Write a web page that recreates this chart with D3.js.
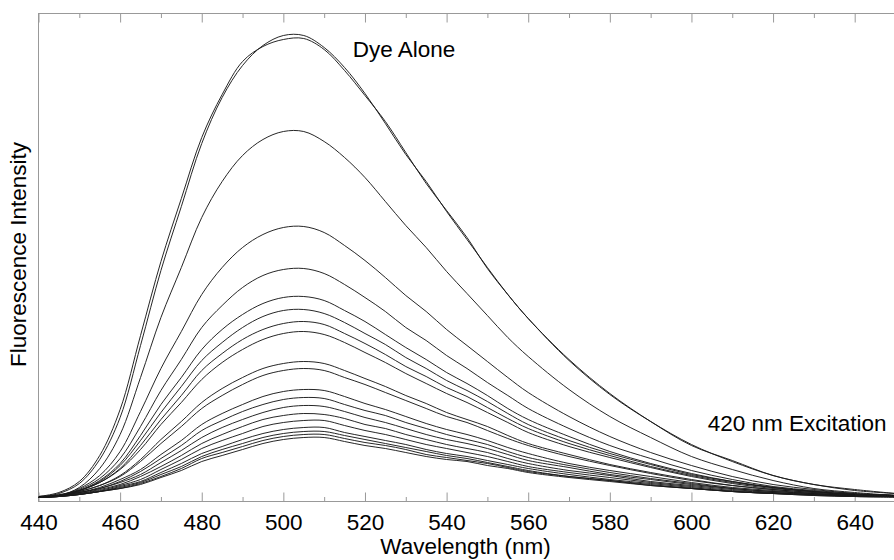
<!DOCTYPE html>
<html>
<head>
<meta charset="utf-8">
<script src="https://cdn.jsdelivr.net/npm/d3@7"></script>
<style>
  body { margin: 0; background: #fff; }
  svg { display: block; font-family: "Liberation Sans", Arial, Helvetica, sans-serif; }
  .frame { fill: none; stroke: #999; stroke-width: 1; }
  .axis line { stroke: #999; stroke-width: 1; }
  .axis text { fill: #000; font-size: 22.5px; font-family: "Liberation Sans", Arial, Helvetica, sans-serif; }
  .spectrum { fill: none; stroke: #1a1a1a; stroke-width: 0.95; }
  .label { fill: #000; font-size: 22.5px; }
</style>
</head>
<body>
<div id="chart"></div>
<script>
// wavelength grid (nm) the spectra were read at
const wavelengths = [440, 445, 450, 455, 460, 465, 470, 475, 480, 485, 490, 495, 500, 505, 510, 515, 520,
  525, 530, 535, 540, 545, 550, 555, 560, 570, 580, 590, 600, 610, 620, 630, 640, 650];

const majorTicks = [440, 460, 480, 500, 520, 540, 560, 580, 600, 620, 640];
const minorTicks = [450, 470, 490, 510, 530, 550, 570, 590, 610, 630, 650];

// fluorescence intensity (arb. units), dye alone runs
const dyeAlone1 = [4, 8, 18, 42, 84, 156, 231, 295, 358, 404, 436, 456, 466, 466, 454, 434, 408,
  378, 347, 320, 290, 262, 234, 207, 183, 141, 107, 80, 57, 40, 26, 17, 11, 8];
const dyeAlone2 = [5, 9, 20, 46, 92, 166, 240, 303, 364, 407, 440, 455, 462, 463, 452, 431, 406,
  380, 349, 318, 291, 264, 233, 207, 183, 142, 108, 80, 56, 41, 26, 17, 12, 8];

// quenched spectra, top to bottom
const quench01 = [4, 6, 14, 33, 67, 124, 184, 234, 284, 320, 346, 362, 370, 370, 360, 344, 324,
  300, 276, 254, 230, 208, 186, 164, 145, 112, 85, 64, 45, 32, 21, 13, 9, 6];
const quench02 = [4, 6, 13, 26, 50, 90, 133, 170, 207, 234, 254, 267, 274, 275, 269, 256, 241,
  224, 206, 190, 172, 156, 140, 124, 109, 85, 65, 49, 36, 25, 17, 12, 8, 6];
const quench03 = [4, 6, 12, 23, 43, 75, 111, 142, 174, 196, 214, 226, 232, 233, 228, 217, 204,
  190, 174, 161, 146, 133, 119, 106, 93, 73, 56, 43, 31, 22, 15, 11, 8, 6];
const quench04 = [4, 6, 11, 21, 38, 66, 97, 124, 152, 172, 187, 198, 204, 205, 201, 191, 180,
  167, 154, 142, 129, 118, 106, 93, 82, 65, 50, 38, 28, 20, 14, 10, 7, 6];
const quench05 = [4, 6, 11, 20, 36, 61, 89, 115, 141, 159, 174, 185, 191, 192, 188, 179, 168,
  157, 144, 133, 121, 111, 100, 88, 77, 61, 48, 37, 27, 20, 14, 10, 7, 6];
const quench06 = [4, 6, 11, 19, 33, 56, 82, 106, 131, 148, 162, 172, 178, 180, 177, 168, 158,
  147, 135, 125, 114, 105, 94, 83, 73, 58, 46, 35, 26, 19, 14, 10, 7, 6];
const quench07 = [5, 7, 11, 19, 32, 52, 77, 99, 122, 139, 152, 162, 168, 170, 167, 159, 149,
  139, 128, 118, 108, 99, 89, 79, 69, 55, 44, 34, 25, 18, 13, 10, 7, 6];
const quench08 = [4, 6, 10, 16, 26, 42, 62, 80, 99, 113, 124, 133, 138, 140, 138, 131, 123,
  115, 106, 98, 89, 82, 75, 66, 58, 47, 37, 29, 22, 16, 12, 9, 7, 6];
const quench09 = [5, 6, 10, 16, 25, 40, 58, 75, 93, 106, 117, 126, 131, 133, 131, 124, 117,
  109, 101, 93, 85, 79, 71, 63, 56, 45, 36, 28, 21, 16, 12, 9, 7, 6];
const quench10 = [4, 6, 9, 14, 22, 32, 47, 61, 77, 88, 97, 105, 110, 112, 111, 105, 98,
  92, 85, 78, 72, 67, 61, 54, 48, 38, 31, 25, 19, 14, 11, 8, 6, 5];
const quench11 = [4, 6, 9, 13, 20, 30, 43, 56, 71, 81, 90, 97, 102, 104, 103, 97, 91,
  86, 79, 73, 67, 62, 57, 50, 44, 36, 29, 23, 18, 13, 10, 8, 6, 5];
const quench12 = [4, 6, 9, 13, 19, 27, 39, 51, 64, 74, 82, 89, 94, 96, 95, 90, 84,
  79, 73, 67, 62, 58, 53, 47, 41, 34, 27, 22, 17, 13, 10, 8, 6, 5];
const quench13 = [4, 6, 8, 12, 17, 25, 35, 46, 58, 67, 75, 82, 86, 88, 87, 83, 77,
  73, 67, 62, 57, 53, 49, 43, 38, 31, 26, 20, 16, 12, 9, 7, 6, 5];
const quench14 = [4, 5, 8, 11, 16, 22, 32, 42, 53, 61, 68, 75, 79, 81, 81, 76, 71,
  67, 62, 57, 53, 49, 45, 40, 35, 29, 24, 19, 15, 11, 9, 7, 6, 5];
const quench15 = [4, 5, 7, 10, 15, 20, 29, 38, 48, 55, 62, 68, 72, 74, 74, 69, 65,
  61, 57, 52, 48, 45, 41, 37, 33, 27, 22, 18, 14, 10, 8, 7, 5, 5];
const quench16 = [4, 5, 7, 10, 14, 19, 27, 35, 45, 52, 58, 64, 68, 70, 70, 66, 62,
  58, 54, 50, 46, 43, 39, 35, 31, 25, 21, 17, 13, 10, 8, 7, 5, 5];
const quench17 = [4, 5, 7, 10, 13, 18, 25, 33, 43, 49, 55, 61, 65, 67, 67, 63, 59,
  56, 52, 47, 44, 41, 38, 34, 30, 25, 21, 16, 13, 10, 8, 6, 5, 5];
const quench18 = [4, 5, 7, 10, 13, 17, 24, 31, 40, 46, 52, 58, 62, 64, 64, 60, 56,
  53, 49, 45, 42, 40, 36, 33, 29, 24, 20, 16, 13, 10, 8, 6, 5, 4];

const spectra = [dyeAlone1, dyeAlone2, quench01, quench02, quench03, quench04, quench05, quench06,
  quench07, quench08, quench09, quench10, quench11, quench12, quench13, quench14, quench15,
  quench16, quench17, quench18];

class SpectraChart {

  constructor(_config, _data) {
    this.config = {
      parentElement: _config.parentElement,
      containerWidth: _config.containerWidth || 894,
      containerHeight: _config.containerHeight || 560,
      margin: _config.margin || {top: 13.5, right: -1.5, bottom: 58.5, left: 38.5}
    };
    this.data = _data;
    this.initVis();
  }

  initVis() {
    let vis = this;

    vis.width = vis.config.containerWidth - vis.config.margin.left - vis.config.margin.right;
    vis.height = vis.config.containerHeight - vis.config.margin.top - vis.config.margin.bottom;

    vis.xScale = d3.scaleLinear()
        .domain([440, 650])
        .range([0, vis.width]);

    // intensity is arbitrary, no y ticks on the original
    vis.yScale = d3.scaleLinear()
        .domain([0, 488])
        .range([vis.height, 0]);

    vis.svg = d3.select(vis.config.parentElement).append('svg')
        .attr('width', vis.config.containerWidth)
        .attr('height', vis.config.containerHeight);

    vis.chart = vis.svg.append('g')
        .attr('transform', `translate(${vis.config.margin.left},${vis.config.margin.top})`);

    vis.chart.append('clipPath')
        .attr('id', 'plot-clip')
      .append('rect')
        .attr('width', vis.width)
        .attr('height', vis.height);

    // ticks point inward, major every 20 nm, minor in between
    vis.xAxisMajor = d3.axisBottom(vis.xScale)
        .tickValues(majorTicks)
        .tickSize(-9)
        .tickPadding(13)
        .tickFormat(d3.format('d'));
    vis.xAxisMinor = d3.axisBottom(vis.xScale)
        .tickValues(minorTicks)
        .tickSize(-4.5)
        .tickFormat('');
    vis.topAxisMajor = d3.axisTop(vis.xScale)
        .tickValues(majorTicks)
        .tickSize(-9)
        .tickFormat('');
    vis.topAxisMinor = d3.axisTop(vis.xScale)
        .tickValues(minorTicks)
        .tickSize(-4.5)
        .tickFormat('');

    vis.chart.append('rect')
        .attr('class', 'frame')
        .attr('width', vis.width)
        .attr('height', vis.height);

    [vis.xAxisMajor, vis.xAxisMinor].forEach(ax => {
      vis.chart.append('g')
          .attr('class', 'axis')
          .attr('transform', `translate(0,${vis.height})`)
          .call(ax)
          .call(g => g.select('.domain').remove());
    });
    [vis.topAxisMajor, vis.topAxisMinor].forEach(ax => {
      vis.chart.append('g')
          .attr('class', 'axis')
          .call(ax)
          .call(g => g.select('.domain').remove());
    });
    vis.chart.selectAll('.axis').attr('font-size', null).attr('font-family', null);

    // axis titles
    vis.chart.append('text')
        .attr('class', 'label')
        .attr('x', vis.width / 2 - 1.5)
        .attr('y', vis.height + 52)
        .attr('text-anchor', 'middle')
        .text('Wavelength (nm)');

    vis.svg.append('text')
        .attr('class', 'label')
        .attr('text-anchor', 'middle')
        .attr('transform', `translate(26, ${vis.config.margin.top + vis.height / 2 - 3}) rotate(-90)`)
        .text('Fluorescence Intensity');

    vis.renderVis();
  }

  renderVis() {
    let vis = this;

    const line = d3.line()
        .x((d, i) => vis.xScale(wavelengths[i]))
        .y(d => vis.yScale(d))
        .curve(d3.curveCatmullRom.alpha(0.5));

    vis.chart.append('g')
        .attr('clip-path', 'url(#plot-clip)')
      .selectAll('.spectrum')
        .data(vis.data)
        .join('path')
        .attr('class', 'spectrum')
        .attr('d', line);

    // annotations placed in data coordinates
    vis.chart.append('text')
        .attr('class', 'label')
        .attr('x', vis.xScale(517))
        .attr('y', vis.yScale(445))
        .text('Dye Alone');

    vis.chart.append('text')
        .attr('class', 'label')
        .attr('x', vis.xScale(604))
        .attr('y', vis.yScale(71))
        .text('420 nm Excitation');
  }
}

new SpectraChart({parentElement: '#chart'}, spectra);
</script>
</body>
</html>
